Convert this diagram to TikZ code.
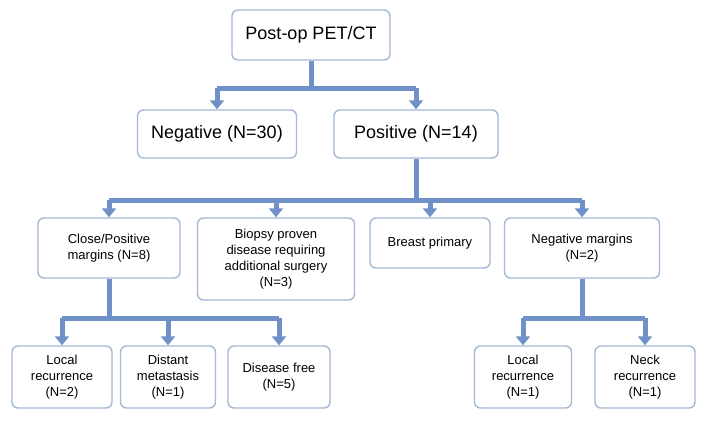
\documentclass[tikz,border=0pt]{standalone}
\usepackage{fontspec}
\setmainfont{Liberation Sans}
\usetikzlibrary{arrows.meta}
\definecolor{ln}{RGB}{112,144,200}
\definecolor{bd}{RGB}{165,185,215}
\begin{document}
\begin{tikzpicture}[x=1pt,y=-1pt,
 box/.style={draw=bd,line width=1.4pt,rounded corners=6pt,fill=white,align=center,inner sep=0pt},
 big/.style={box,font=\fontsize{18}{21}\selectfont},
 sm/.style={box,font=\fontsize{13}{16}\selectfont},
 con/.style={draw=ln,line width=5pt},
 arr/.style={con,-{Triangle[width=14pt,length=9pt]}}]
\useasboundingbox (0,0) rectangle (704,421);
\node[big,minimum width=158,minimum height=50] (top) at (311,35) {Post-op PET/CT};
\node[big,minimum width=159,minimum height=48] (neg) at (217,134) {Negative (N=30)};
\node[big,minimum width=164,minimum height=48] (pos) at (416,134) {Positive (N=14)};
\node[sm,minimum width=142,minimum height=60] (close) at (109,248) {Close/Positive\\margins (N=8)};
\node[sm,minimum width=157,minimum height=82] (bio) at (276,259) {Biopsy proven\\disease requiring\\additional surgery\\(N=3)};
\node[sm,minimum width=120,minimum height=50] (breast) at (430,243) {Breast primary};
\node[sm,minimum width=155,minimum height=60] (nm) at (582,248) {Negative margins\\(N=2)};
\node[sm,minimum width=100,minimum height=62] (lr1) at (62,377) {Local\\recurrence\\(N=2)};
\node[sm,minimum width=95,minimum height=62] (dm) at (168,377) {Distant\\metastasis\\(N=1)};
\node[sm,minimum width=102,minimum height=62] (df) at (279,377) {Disease free\\(N=5)};
\node[sm,minimum width=97,minimum height=62] (lr2) at (523,377) {Local\\recurrence\\(N=1)};
\node[sm,minimum width=100,minimum height=62] (nr) at (645,377) {Neck\\recurrence\\(N=1)};
\coordinate (j1) at (311,88);
\coordinate (j2) at (416,200);
\coordinate (j3) at (109,318);
\coordinate (j4) at (582,318);
\draw[con] (top.south) -- (j1);
\draw[con,line cap=butt] (neg.north |- j1) -- (pos.north |- j1);
\draw[arr] (neg.north |- j1) -- (neg.north);
\draw[arr] (pos.north |- j1) -- (pos.north);
\draw[con] (pos.south) -- (j2);
\draw[con] (close.north |- j2) -- (nm.north |- j2);
\foreach \n in {close,bio,breast,nm} \draw[arr] (\n.north |- j2) -- (\n.north);
\draw[con] (close.south) -- (j3);
\draw[con] (lr1.north |- j3) -- (df.north |- j3);
\foreach \n in {lr1,dm,df} \draw[arr] (\n.north |- j3) -- (\n.north);
\draw[con] (nm.south) -- (j4);
\draw[con] (lr2.north |- j4) -- (nr.north |- j4);
\foreach \n in {lr2,nr} \draw[arr] (\n.north |- j4) -- (\n.north);
\end{tikzpicture}
\end{document}
